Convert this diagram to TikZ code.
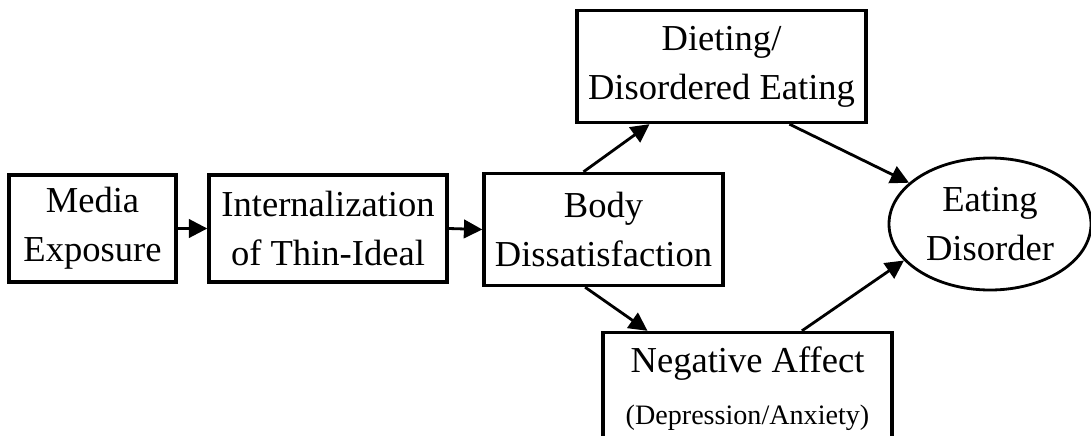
\documentclass[tikz,border=0pt]{standalone}
\usepackage{fontspec}
\setmainfont{Liberation Serif}
\usetikzlibrary{arrows.meta}
\usetikzlibrary{shapes.geometric}
\usetikzlibrary{positioning}

\begin{document}
\begin{tikzpicture}[
    box/.style={rectangle, draw, line width=2.4pt, inner sep=0pt, align=center,
        minimum height=2.8cm, font=\fontsize{26}{35}\selectfont},
    oval/.style={ellipse, draw, line width=2pt, inner sep=0pt, align=center,
        minimum width=5.05cm, minimum height=3.3cm, font=\fontsize{26}{35}\selectfont},
    link/.style={line width=2pt, -{Triangle[length=4.6mm, width=4.6mm]}}
]

\useasboundingbox (0,0) rectangle (27.275,-10.875);

% --- Chain of boxes ---
\node[box, minimum width=4.175cm, minimum height=2.675cm] (media) at (2.3125,-5.7125) {Media\\Exposure};
\node[box, minimum width=5.95cm, minimum height=2.675cm] (intern) at (8.2,-5.7125) {Internalization\\of Thin-Ideal};
\node[box, minimum width=5.975cm] (body) at (15.0875,-5.7375) {Body\\Dissatisfaction};

% --- Two paths ---
\node[box, minimum width=7.225cm] (diet) at (18.0375,-1.6625) {Dieting/\\Disordered Eating};
\node[box, minimum width=7.225cm] (neg) at (18.6875,-9.7125)
    {Negative Affect\\[2pt]{\fontsize{20}{24}\selectfont (Depression/Anxiety)}};

% --- Outcome ---
\node[oval] (eat) at (24.75,-5.6) {Eating\\Disorder};

% --- Arrows ---
\draw[link] (media.east) -- (intern.west);
\draw[link] (intern.east) -- (body.west);
\draw[link] ([xshift=-0.5cm]body.north) -- ([xshift=-1.8cm]diet.south);
\draw[link] ([xshift=-0.46cm]body.south) -- ([xshift=-2.5cm]neg.north);
\draw[link] ([xshift=1.7cm]diet.south) -- (eat.153);
\draw[link] ([xshift=1.36cm]neg.north) -- (eat.203);

\end{tikzpicture}
\end{document}
